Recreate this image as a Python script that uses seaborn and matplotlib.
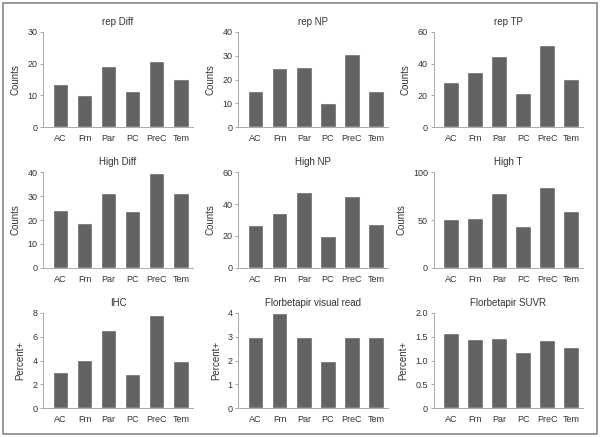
import matplotlib
matplotlib.use("Agg")
import matplotlib.pyplot as plt
from matplotlib.patches import Rectangle
import pandas as pd
import seaborn as sns

# -------------------------
# Data
# -------------------------
regions = ["AC", "Frn", "Par", "PC", "PreC", "Tem"]

rep_diff = [13.5, 10.2, 19.4, 11.5, 20.7, 15.3]
rep_np = [15.0, 24.7, 25.2, 10.0, 30.8, 15.0]
rep_tp = [28.6, 35.0, 44.8, 21.5, 51.6, 30.5]
high_diff = [24.1, 18.8, 31.2, 23.7, 39.6, 31.2]
high_np = [26.8, 34.2, 47.5, 19.9, 45.4, 27.3]
high_t = [50.9, 52.6, 78.9, 43.9, 84.2, 59.3]
ihc = [3.02, 4.07, 6.6, 2.88, 7.8, 3.95]
visual_read = [3, 4, 3, 2, 3, 3]
suvr = [1.57, 1.45, 1.48, 1.18, 1.43, 1.29]

titles = ["rep Diff", "rep NP", "rep TP",
          "High Diff", "High NP", "High T",
          "IHC", "Florbetapir visual read", "Florbetapir SUVR"]
series = [rep_diff, rep_np, rep_tp, high_diff, high_np, high_t,
          ihc, visual_read, suvr]
ylabels = ["Counts"] * 6 + ["Percent+"] * 3
yticks = [[0, 10, 20, 30], [0, 10, 20, 30, 40], [0, 20, 40, 60],
          [0, 10, 20, 30, 40], [0, 20, 40, 60], [0, 50, 100],
          [0, 2, 4, 6, 8], [0, 1, 2, 3, 4], [0, 0.5, 1.0, 1.5, 2.0]]
ytick_labels = [None] * 8 + [["0", "0.5", "1.0", "1.5", "2.0"]]

# -------------------------
# Style
# -------------------------
sns.set_style("ticks")
plt.rcParams["font.family"] = ["Liberation Sans Narrow", "Liberation Sans", "DejaVu Sans"]
plt.rcParams["text.color"] = "#333333"
plt.rcParams["axes.labelcolor"] = "#333333"
plt.rcParams["xtick.color"] = "#999999"
plt.rcParams["ytick.color"] = "#999999"
plt.rcParams["xtick.labelcolor"] = "#333333"
plt.rcParams["ytick.labelcolor"] = "#333333"

bar_color = "#636363"
spine_color = "#aaaaaa"

fig, axes = plt.subplots(3, 3, figsize=(6, 4.37), dpi=100)
fig.subplots_adjust(left=0.072, right=0.972, bottom=0.066, top=0.927,
                    wspace=0.304, hspace=0.475)

for ax, title, vals, ylab, ticks, tlabels in zip(
        axes.flat, titles, series, ylabels, yticks, ytick_labels):
    df = pd.DataFrame({"region": regions, "value": vals})
    sns.barplot(data=df, x="region", y="value", color=bar_color,
                saturation=1, width=0.64, ax=ax)
    ax.set_title(title, fontsize=7, pad=5)
    ax.set_xlabel("")
    ax.set_ylabel(ylab, fontsize=7, labelpad=5)
    ax.set_xlim(-0.72, 5.5)
    ax.set_ylim(ticks[0], ticks[-1])
    ax.set_yticks(ticks)
    if tlabels is not None:
        ax.set_yticklabels(tlabels)
    ax.tick_params(axis="both", labelsize=6.5, length=2, width=0.6, pad=2)
    ax.tick_params(axis="x", length=0, pad=5)
    for side in ["top", "right"]:
        ax.spines[side].set_visible(False)
    for side in ["left", "bottom"]:
        ax.spines[side].set_color(spine_color)
        ax.spines[side].set_linewidth(0.7)

# gray frame round the whole figure
fig.patches.append(Rectangle((0.005, 0.008), 0.99, 0.985, transform=fig.transFigure,
                             fill=False, edgecolor="#888888", linewidth=1.2))

fig.savefig("out.png", dpi=100)
plt.close(fig)
